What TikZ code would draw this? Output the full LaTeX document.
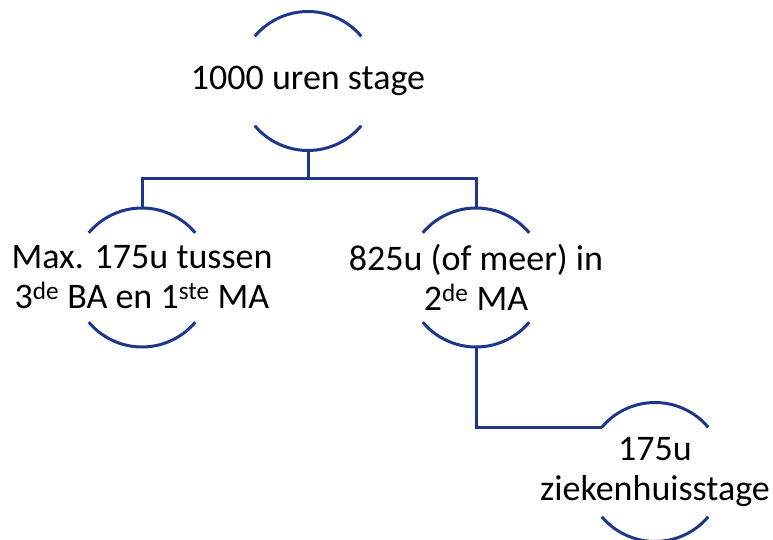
\documentclass[tikz,border=0pt]{standalone}
\usepackage{fontspec}
\setmainfont{Carlito}
\definecolor{lineblue}{RGB}{30,55,140}
\begin{document}
\begin{tikzpicture}[x=1pt,y=-1pt,
  ring/.style={circle,minimum size=139pt,inner sep=0pt,outer sep=0pt},
  lbl/.style={align=center,inner sep=0pt,font=\fontsize{36}{40}\selectfont,text=black},
  conn/.style={draw=lineblue,line width=3pt},
  arcline/.style={draw=lineblue,line width=3pt}]
\useasboundingbox (0,0) rectangle (773,540);
\clip (0,0) rectangle (773,540);
% invisible circles
\node[ring] (c1) at (308,81) {};
\node[ring] (c2) at (142,277.5) {};
\node[ring] (c3) at (476,277.5) {};
\node[ring] (c4) at (655,472) {};
% arcs
\foreach \c in {c1,c2,c3,c4}{
  \draw[arcline] (\c.40) arc (40:140:69.5pt);
  \draw[arcline] (\c.220) arc (220:320:69.5pt);
}
% texts
\node[lbl] (t1) at (c1) {1000 uren stage};
\node[lbl] (t2) at (c2) {Max. 175u tussen\\3\textsuperscript{de} BA en 1\textsuperscript{ste} MA};
\node[lbl] (t3) at (c3) {825u (of meer) in\\2\textsuperscript{de} MA};
\node[lbl] (t4) at (c4) {175u\\ziekenhuisstage};
% connectors
\coordinate (b) at (308,179);
\draw[conn] (c1.south) -- (b);
\draw[conn] (b) -| (c2.north);
\draw[conn] (b) -| (c3.north);
\draw[conn] (c3.south) |- (c4.140);
\end{tikzpicture}
\end{document}
